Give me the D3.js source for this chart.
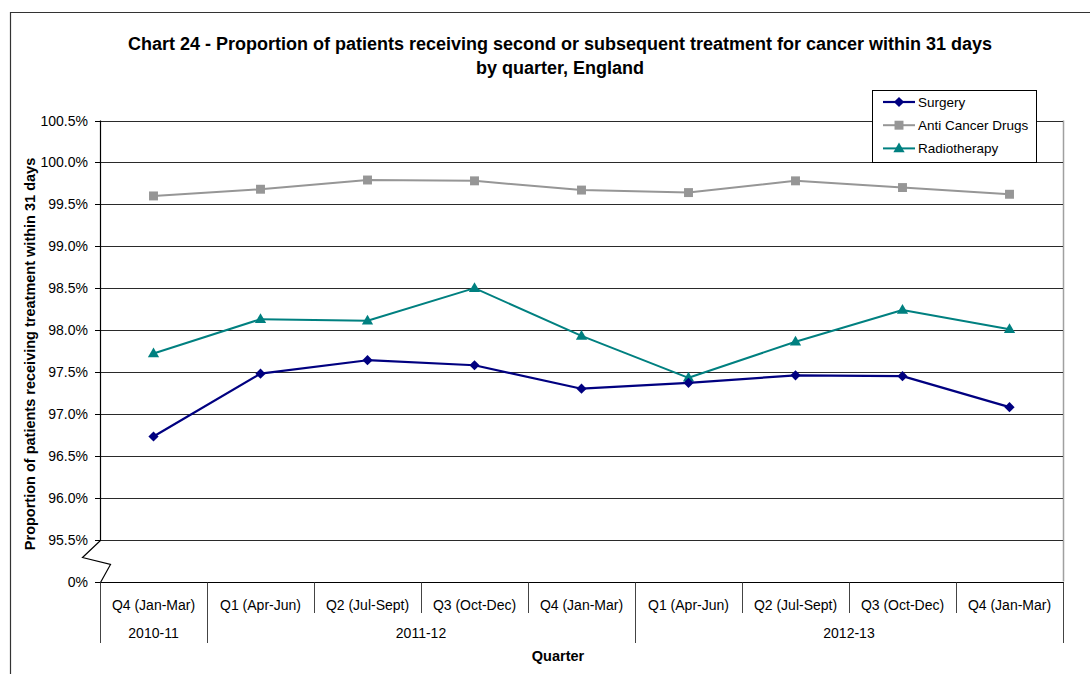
<!DOCTYPE html>
<html>
<head>
<meta charset="utf-8">
<script src="https://cdn.jsdelivr.net/npm/d3@7"></script>
<style>
  html, body { margin: 0; padding: 0; background: #fff; }
  svg { display: block; font-family: "Liberation Sans", Arial, sans-serif; }
</style>
</head>
<body>
<svg id="chart" width="1090" height="674"></svg>
<script>
// ---- data ----
const quarters = ["Q4 (Jan-Mar)", "Q1 (Apr-Jun)", "Q2 (Jul-Sept)", "Q3 (Oct-Dec)", "Q4 (Jan-Mar)",
                  "Q1 (Apr-Jun)", "Q2 (Jul-Sept)", "Q3 (Oct-Dec)", "Q4 (Jan-Mar)"];
const years = ["2010-11", "2011-12", "2012-13"];
const yearQuarterCounts = [1, 4, 4];
const surgery = [96.73, 97.48, 97.64, 97.58, 97.30, 97.37, 97.46, 97.45, 97.08];
const antiCancerDrugs = [99.60, 99.68, 99.79, 99.78, 99.67, 99.64, 99.78, 99.70, 99.62];
const radiotherapy = [97.72, 98.13, 98.11, 98.50, 97.93, 97.43, 97.86, 98.24, 98.01];
const seriesNames = ["Surgery", "Anti Cancer Drugs", "Radiotherapy"];
// axis break: the bottom tick (95.0 on the scale) is labelled 0%
const yTicks = [95.0, 95.5, 96.0, 96.5, 97.0, 97.5, 98.0, 98.5, 99.0, 99.5, 100.0, 100.5];
const yTickLabels = ["0%", "95.5%", "96.0%", "96.5%", "97.0%", "97.5%", "98.0%", "98.5%", "99.0%", "99.5%", "100.0%", "100.5%"];

// ---- layout ----
const svg = d3.select("#chart");
const plot = { left: 100, right: 1063, top: 120.5, bottom: 581.5 };
const fontSize = 14;

const x = d3.scaleBand().domain(d3.range(quarters.length)).range([plot.left, plot.right]).paddingInner(0).paddingOuter(0);
const y = d3.scaleLinear().domain([95.0, 100.5]).range([plot.bottom, plot.top]);
const cx = i => x(i) + x.bandwidth() / 2;

// outer frame
svg.append("path")
  .attr("d", "M10.5,674 L10.5,12.5 L1090,12.5")
  .attr("fill", "none").attr("stroke", "#333").attr("stroke-width", 1.2);

// title
const title = svg.append("text")
  .attr("x", 560).attr("text-anchor", "middle")
  .attr("font-weight", "bold").attr("font-size", 18).attr("fill", "#000");
title.append("tspan").attr("x", 560).attr("y", 50).text("Chart 24 - Proportion of patients receiving second or subsequent treatment for cancer within 31 days");
title.append("tspan").attr("x", 560).attr("y", 74).text("by quarter, England");

// right plot border
svg.append("line")
  .attr("x1", plot.right + 0.5).attr("x2", plot.right + 0.5)
  .attr("y1", plot.top).attr("y2", plot.bottom)
  .attr("stroke", "#a0a0a0").attr("stroke-width", 1.5);

// gridlines
svg.append("g").selectAll("line")
  .data(yTicks.filter(d => d > 95.0))
  .join("line")
  .attr("x1", plot.left).attr("x2", plot.right)
  .attr("y1", d => Math.round(y(d)) + 0.5).attr("y2", d => Math.round(y(d)) + 0.5)
  .attr("stroke", "#2a2a2a").attr("stroke-width", 1);

// y axis
const yAxis = d3.axisLeft(y)
  .tickValues(yTicks)
  .tickFormat((d, i) => yTickLabels[i])
  .tickSize(5).tickPadding(7);
const gy = svg.append("g").attr("transform", `translate(${plot.left},0)`).call(yAxis);
gy.select(".domain").remove();
gy.selectAll(".tick line").attr("stroke", "#000").attr("y1", 0).attr("y2", 0)
  .each(function(d) { d3.select(this.parentNode).attr("transform", `translate(0,${Math.round(y(d)) + 0.5})`); });
gy.selectAll(".tick text").attr("font-size", fontSize).attr("fill", "#000")
  .attr("font-family", "Liberation Sans, Arial, sans-serif");

// y axis line with break zigzag
const yBreakTop = Math.round(y(95.5)) + 0.5;
const yBreakBot = Math.round(y(95.0)) + 0.5;
svg.append("path")
  .attr("d", `M${plot.left + 0.5},${plot.top} L${plot.left + 0.5},${yBreakTop} L${plot.left - 17.5},${yBreakTop + 17} L${plot.left + 10.5},${yBreakTop + 24} L${plot.left + 0.5},${yBreakBot}`)
  .attr("fill", "none").attr("stroke", "#000").attr("stroke-width", 1.2);

// y axis title
svg.append("text")
  .attr("transform", `translate(35,${354}) rotate(-90)`)
  .attr("text-anchor", "middle")
  .attr("font-weight", "bold").attr("font-size", 14.5).attr("fill", "#000")
  .text("Proportion of patients receiving treatment within 31 days");

// x axis (category labels)
const xAxis = d3.axisBottom(x).tickFormat(i => quarters[i]).tickSize(0).tickPadding(17.5);
const gx = svg.append("g").attr("transform", `translate(0,${yBreakBot})`).call(xAxis);
gx.select(".domain").remove();
gx.selectAll(".tick text").attr("font-size", fontSize).attr("fill", "#000")
  .attr("font-family", "Liberation Sans, Arial, sans-serif");

// x axis line
svg.append("line")
  .attr("x1", plot.left).attr("x2", plot.right + 1)
  .attr("y1", yBreakBot).attr("y2", yBreakBot)
  .attr("stroke", "#000").attr("stroke-width", 1.2);

// quarter dividers
const bounds = d3.range(quarters.length + 1).map(i => i < quarters.length ? x(i) : plot.right);
const yearStarts = d3.cumsum([0, ...yearQuarterCounts]);
svg.append("g").selectAll("line")
  .data(bounds.map((b, i) => ({ b, i })))
  .join("line")
  .attr("x1", d => Math.round(d.b) + 0.5).attr("x2", d => Math.round(d.b) + 0.5)
  .attr("y1", yBreakBot)
  .attr("y2", d => yearStarts.includes(d.i) ? 643 : 613)
  .attr("stroke", "#444").attr("stroke-width", 1);

// year labels
svg.append("g").selectAll("text")
  .data(years.map((yr, k) => ({ yr, s: yearStarts[k], e: yearStarts[k + 1] })))
  .join("text")
  .attr("x", d => (bounds[d.s] + bounds[d.e]) / 2)
  .attr("y", 638)
  .attr("text-anchor", "middle")
  .attr("font-size", fontSize).attr("fill", "#000")
  .text(d => d.yr);

// x axis title
svg.append("text")
  .attr("x", 558).attr("y", 661)
  .attr("text-anchor", "middle")
  .attr("font-weight", "bold").attr("font-size", 14.5).attr("fill", "#000")
  .text("Quarter");

// series
const diamond = d3.symbol().type(d3.symbolSquare).size(52);
const square = d3.symbol().type(d3.symbolSquare).size(80);
const triangle = d3.symbol().type(d3.symbolTriangle).size(55);
const series = [
  { name: seriesNames[0], values: surgery, color: "#000080", width: 2.2, sym: diamond, rot: 45, dy: 0 },
  { name: seriesNames[1], values: antiCancerDrugs, color: "#969696", width: 2, sym: square, rot: 0, dy: 0 },
  { name: seriesNames[2], values: radiotherapy, color: "#008080", width: 2, sym: triangle, rot: 0, dy: 0.5 }
];
const line = d3.line().x((d, i) => cx(i)).y(d => y(d));

// draw in order so that Surgery is on top
[series[1], series[2], series[0]].forEach(s => {
  const g = svg.append("g");
  g.append("path").attr("d", line(s.values))
    .attr("fill", "none").attr("stroke", s.color).attr("stroke-width", s.width)
    .attr("stroke-linejoin", "round");
  g.selectAll("path.m").data(s.values).join("path").attr("class", "m")
    .attr("d", s.sym())
    .attr("transform", (d, i) => `translate(${cx(i)},${y(d) + s.dy}) rotate(${s.rot})`)
    .attr("fill", s.color);
});

// legend
const lg = svg.append("g");
lg.append("rect")
  .attr("x", 872.5).attr("y", 90.5).attr("width", 164).attr("height", 72)
  .attr("fill", "#fff").attr("stroke", "#000").attr("stroke-width", 1);
series.forEach((s, k) => {
  const ly = 102 + k * 23.2;
  lg.append("line").attr("x1", 883).attr("x2", 915).attr("y1", ly).attr("y2", ly)
    .attr("stroke", s.color).attr("stroke-width", s.width);
  lg.append("path").attr("d", s.sym())
    .attr("transform", `translate(899,${ly + s.dy}) rotate(${s.rot})`)
    .attr("fill", s.color);
  lg.append("text").attr("x", 918).attr("y", ly).attr("dy", "0.35em")
    .attr("font-size", 13.5).attr("fill", "#000")
    .text(s.name);
});
</script>
</body>
</html>
